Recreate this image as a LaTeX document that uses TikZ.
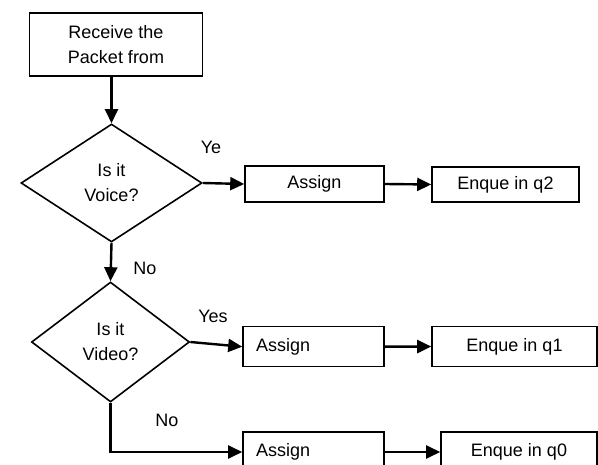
\documentclass[tikz,border=0pt]{standalone}
\usepackage{fontspec}
\setmainfont{Liberation Sans}
\usetikzlibrary{shapes.geometric,arrows.meta}
\begin{document}
\begin{tikzpicture}[x=1pt,y=-1pt,
  every node/.style={font=\fontsize{18}{25}\selectfont},
  box/.style={draw,line width=1.6pt,rectangle,inner sep=0pt,align=center},
  lbox/.style={box,align=left,inner xsep=13pt,text width=115pt},
  dia/.style={draw,line width=1.6pt,diamond,inner sep=0pt,align=center},
  arr/.style={line width=2.4pt,-{Triangle[length=14pt,width=13pt]}},
  lbl/.style={inner sep=0pt}]
\clip (0,0) rectangle (598,465);
\fill[white] (0,0) rectangle (598,465);
\node[box,minimum width=173pt,minimum height=63pt] (recv) at (116,44.5) {Receive the\\Packet from};
\node[dia,minimum width=181pt,minimum height=118pt] (d1) at (111.5,183) {Is it\\Voice?};
\node[box,minimum width=139pt,minimum height=36pt] (a1) at (314.5,184) {Assign};
\node[box,minimum width=147pt,minimum height=35pt] (e2) at (505.5,184.5) {Enque in q2};
\node[dia,minimum width=158pt,minimum height=120pt] (d2) at (110.5,342) {Is it\\Video?};
\node[lbox,minimum height=40pt] (a2) at (313.5,346.7) {Assign};
\node[box,minimum width=165pt,minimum height=40pt] (e1) at (514.5,346.5) {Enque in q1};
\node[lbox,minimum height=40pt] (a3) at (313.5,452) {Assign};
\node[box,minimum width=156pt,minimum height=40pt] (e0) at (519,452) {Enque in q0};
\node[lbl] (ye) at (211,147) {Ye};
\node[lbl] (no1) at (145,268) {No};
\node[lbl] (yes) at (213,316) {Yes};
\node[lbl] (no2) at (167,420) {No};
\coordinate (bend) at (d2.south |- a3.west);
\draw[arr] (recv.south -| d1.north) -- (d1.north);
\draw[arr] (d1.east) -- (a1.west);
\draw[arr] (a1.east) -- (e2.west);
\draw[arr] (d1.south) -- (d2.north);
\draw[arr] (d2.east) -- (a2.west);
\draw[arr] (a2.east) -- (e1.west);
\draw[arr] (d2.south) -- (bend) -- (a3.west);
\draw[arr] (a3.east) -- (e0.west);
\end{tikzpicture}
\end{document}
